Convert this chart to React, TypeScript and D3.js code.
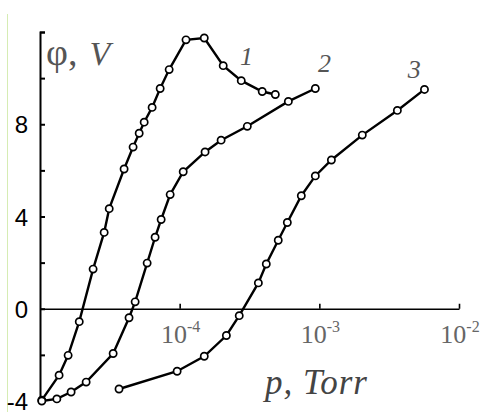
import React, { useRef, useEffect } from "react";
import * as d3 from "d3";

// pressure (Torr) and potential (V)
const p1 = [1.03e-5, 1.37e-5, 1.59e-5, 1.91e-5, 2.4e-5, 2.88e-5, 3.13e-5, 4.0e-5, 4.64e-5, 5.13e-5, 5.57e-5, 6.35e-5, 7.25e-5, 8.41e-5, 1.11e-4, 1.5e-4, 2.05e-4, 2.76e-4, 3.9e-4, 4.84e-4];
const v1 = [-3.96, -2.88, -2.02, -0.56, 1.72, 3.31, 4.34, 6.06, 7.01, 7.61, 8.09, 8.73, 9.55, 10.37, 11.66, 11.74, 10.54, 9.89, 9.42, 9.29];

const p2 = [1.03e-5, 1.32e-5, 1.67e-5, 2.14e-5, 3.34e-5, 4.34e-5, 4.8e-5, 5.85e-5, 6.67e-5, 7.37e-5, 8.55e-5, 1.06e-4, 1.52e-4, 1.98e-4, 3.05e-4, 6.0e-4, 9.36e-4];
const v2 = [-4.0, -3.91, -3.61, -3.18, -1.94, -0.39, 0.3, 1.98, 3.1, 3.87, 4.95, 5.94, 6.8, 7.31, 7.91, 8.99, 9.55];

const p3 = [3.68e-5, 9.59e-5, 1.5e-4, 2.16e-4, 2.67e-4, 3.66e-4, 4.17e-4, 5.08e-4, 5.9e-4, 7.43e-4, 9.36e-4, 1.22e-3, 2.03e-3, 3.62e-3, 5.66e-3];
const v3 = [-3.48, -2.71, -2.06, -1.16, -0.3, 1.12, 1.94, 2.97, 3.74, 4.9, 5.76, 6.45, 7.53, 8.6, 9.51];

const curveNames = ["1", "2", "3"];
const yTicks = [-4, -2, 0, 2, 4, 6, 8, 10, 12];
const yLabels = [-4, 0, 4, 8];
const xTicks = [1e-4, 1e-3, 1e-2];
const xExp = ["-4", "-3", "-2"];

const App = () => {
  const svgRef = useRef<SVGSVGElement>(null);

  useEffect(() => {
    if (!svgRef.current) return;
    const svg = d3.select(svgRef.current);
    svg.selectAll("*").remove();

    const x = d3.scaleLog().domain([1e-5, 1e-2]).range([40, 459]);
    const y = d3.scaleLinear().domain([-4, 12]).range([401, 32]);

    // faint green edge line from the scan
    svg.append("line")
      .attr("x1", 7.5).attr("x2", 7.5).attr("y1", 14).attr("y2", 412)
      .attr("stroke", "#d6ecb4").attr("stroke-width", 1);

    // y axis
    const yAxis = svg.append("g")
      .attr("transform", `translate(${x(1e-5)},0)`)
      .call(d3.axisRight(y).tickValues(yTicks).tickSize(5).tickSizeOuter(5).tickFormat(() => ""));
    yAxis.selectAll("path, line").attr("stroke", "#000").attr("stroke-width", 2);

    // x axis along phi = 0
    const xAxis = svg.append("g")
      .attr("transform", `translate(0,${y(0)})`)
      .call(d3.axisTop(x).tickValues(xTicks).tickSize(5).tickSizeOuter(0).tickFormat(() => ""));
    xAxis.selectAll("path, line").attr("stroke", "#000").attr("stroke-width", 1.6);

    svg.selectAll(".ylab")
      .data(yLabels)
      .enter()
      .append("text")
      .attr("x", 28)
      .attr("y", (d) => y(d) + 9)
      .attr("text-anchor", "end")
      .style("font-family", "'Liberation Sans', Arial, sans-serif")
      .style("font-size", "24px")
      .attr("fill", "#000")
      .text((d) => (d < 0 ? "-" + Math.abs(d) : String(d)));

    const xl = svg.selectAll(".xlab")
      .data(xTicks)
      .enter()
      .append("text")
      .attr("x", (d) => x(d) + 1)
      .attr("y", y(0) + 34)
      .attr("text-anchor", "middle")
      .style("font-family", "'Liberation Serif', 'Times New Roman', serif")
      .style("font-size", "26px")
      .attr("fill", "#666");
    xl.append("tspan").text("10");
    xl.append("tspan")
      .attr("dy", -11)
      .style("font-size", "16px")
      .text((d, i) => xExp[i]);

    const series = [
      { p: p1, v: v1 },
      { p: p2, v: v2 },
      { p: p3, v: v3 },
    ];

    const line = d3.line<[number, number]>()
      .x((d) => x(d[0]))
      .y((d) => y(d[1]));

    series.forEach((s) => {
      const pts: [number, number][] = s.p.map((p, i) => [p, s.v[i]]);
      svg.append("path")
        .datum(pts)
        .attr("d", line)
        .attr("fill", "none")
        .attr("stroke", "#000")
        .attr("stroke-width", 2.4);
      svg.append("g")
        .selectAll("circle")
        .data(pts)
        .enter()
        .append("circle")
        .attr("cx", (d) => x(d[0]))
        .attr("cy", (d) => y(d[1]))
        .attr("r", 3.6)
        .attr("fill", "#fff")
        .attr("stroke", "#000")
        .attr("stroke-width", 1.7);
    });

    // curve numbers
    const labelPos = [
      { p: 2.7e-4, v: 10.55 },
      { p: 9.8e-4, v: 10.27 },
      { p: 4.3e-3, v: 10.0 },
    ];
    svg.selectAll(".cname")
      .data(curveNames)
      .enter()
      .append("text")
      .attr("x", (d, i) => x(labelPos[i].p))
      .attr("y", (d, i) => y(labelPos[i].v))
      .style("font-family", "'Liberation Serif', 'Times New Roman', serif")
      .style("font-style", "italic")
      .style("font-size", "26px")
      .attr("fill", "#555")
      .text((d) => d);

    // axis titles
    const yt = svg.append("text")
      .attr("x", 46)
      .attr("y", 65)
      .style("font-family", "'Liberation Serif', 'Times New Roman', serif")
      .style("font-size", "34px")
      .attr("fill", "#555");
    yt.append("tspan").style("font-size", "38px").text("φ,");
    yt.append("tspan").attr("dx", 12).style("font-style", "italic").text("V");

    svg.append("text")
      .attr("x", 265)
      .attr("y", 394)
      .style("font-family", "'Liberation Serif', 'Times New Roman', serif")
      .style("font-style", "italic")
      .style("font-size", "35px")
      .style("letter-spacing", "1px")
      .attr("fill", "#444")
      .text("p, Torr");
  }, []);

  return (
    <div style={{ position: "absolute", left: 0, top: 0 }}>
      <svg ref={svgRef} width={481} height={412} style={{ display: "block", background: "#fff" }}></svg>
    </div>
  );
};

export default App;
